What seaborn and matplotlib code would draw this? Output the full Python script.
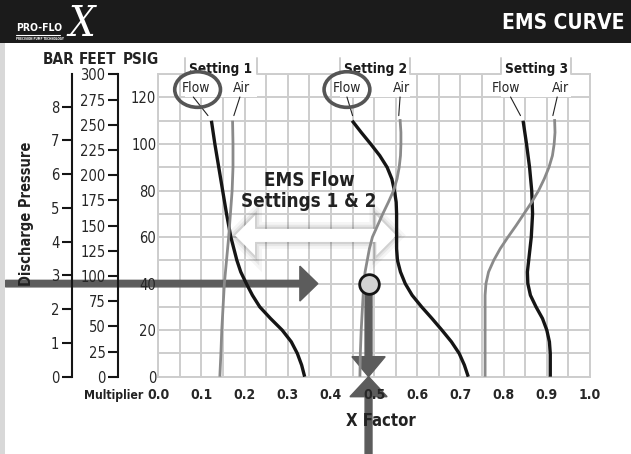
import matplotlib
matplotlib.use('Agg')
import pandas as pd
import matplotlib.pyplot as plt
import matplotlib.patheffects as pe
from matplotlib.patches import Ellipse, Polygon, Rectangle, FancyArrow
from matplotlib import font_manager
import seaborn as sns

# EMS curves: discharge pressure (psig) against X factor
s1_flow_psig = [110, 100, 90, 80, 70, 60, 50, 45, 40, 35, 30, 25, 20, 15, 10, 5, 0]
s1_flow_x = [0.123, 0.131, 0.140, 0.149, 0.158, 0.168, 0.182, 0.191, 0.204, 0.218, 0.235,
             0.260, 0.287, 0.308, 0.322, 0.332, 0.339]
s1_air_psig = [110, 100, 90, 80, 70, 60, 50, 40, 30, 20, 10, 0]
s1_air_x = [0.172, 0.173, 0.173, 0.171, 0.167, 0.163, 0.158, 0.153, 0.150, 0.147, 0.145, 0.1425]

s2_flow_psig = [110, 105, 100, 95, 90, 85, 80, 75, 70, 60, 55, 50, 45, 40, 35, 30, 25, 20, 15, 10, 5, 0]
s2_flow_x = [0.449, 0.470, 0.492, 0.513, 0.530, 0.541, 0.547, 0.551, 0.552, 0.552, 0.552, 0.554,
             0.561, 0.572, 0.588, 0.610, 0.634, 0.657, 0.679, 0.697, 0.709, 0.718]
s2_air_psig = [110.7, 105, 100, 95, 90, 85, 80, 75, 70, 65, 60, 55, 50, 45, 40, 30, 20, 10, 0]
s2_air_x = [0.560, 0.562, 0.562, 0.561, 0.558, 0.553, 0.545, 0.533, 0.520, 0.508, 0.496, 0.489,
            0.484, 0.479, 0.476, 0.473, 0.470, 0.468, 0.467]

s3_flow_psig = [110, 100, 90, 80, 70, 60, 50, 45, 40, 35, 30, 25, 20, 15, 10, 0]
s3_flow_x = [0.845, 0.853, 0.860, 0.865, 0.867, 0.864, 0.858, 0.855, 0.856, 0.862, 0.875,
             0.890, 0.900, 0.906, 0.908, 0.908]
s3_air_psig = [110.7, 105, 100, 95, 90, 85, 80, 75, 70, 65, 60, 55, 50, 45, 40, 35, 30, 0]
s3_air_x = [0.918, 0.919, 0.917, 0.913, 0.905, 0.894, 0.881, 0.865, 0.847, 0.829, 0.810, 0.792,
            0.777, 0.765, 0.759, 0.757, 0.757, 0.757]

settings = ['Setting 1', 'Setting 2', 'Setting 3']
psig_ticks = [0, 20, 40, 60, 80, 100, 120]
feet_ticks = [0, 25, 50, 75, 100, 125, 150, 175, 200, 225, 250, 275, 300]
bar_ticks = [0, 1, 2, 3, 4, 5, 6, 7, 8]
x_ticks = [0.0, 0.1, 0.2, 0.3, 0.4, 0.5, 0.6, 0.7, 0.8, 0.9, 1.0]

# example operating point: 40 psig -> X factor about 0.49
op_psig = 40
op_x = 0.487

FT_PER_PSI = 2.31
PSI_PER_BAR = 14.5038
PSIG_MAX = 130

curves = [
    ('Setting 1', 'Flow', s1_flow_psig, s1_flow_x), ('Setting 1', 'Air', s1_air_psig, s1_air_x),
    ('Setting 2', 'Flow', s2_flow_psig, s2_flow_x), ('Setting 2', 'Air', s2_air_psig, s2_air_x),
    ('Setting 3', 'Flow', s3_flow_psig, s3_flow_x), ('Setting 3', 'Air', s3_air_psig, s3_air_x),
]
df = pd.concat([pd.DataFrame({'setting': s, 'kind': k, 'psig': p, 'x_factor': x})
                for s, k, p, x in curves], ignore_index=True)
df['curve'] = df['setting'] + ' ' + df['kind']

sns.set_style('white')
# a condensed face if one is installed, otherwise the narrower Liberation Sans
condensed = [f.name for f in font_manager.fontManager.ttflist
             if f.stretch in ('condensed', 'semi-condensed') or 'Condensed' in f.name]
if 'DejaVu Sans' in condensed:
    plt.rcParams['font.family'] = ['DejaVu Sans']
    plt.rcParams['font.stretch'] = 'condensed'
else:
    plt.rcParams['font.family'] = ['Liberation Sans', 'DejaVu Sans']

fig = plt.figure(figsize=(6.31, 4.54), dpi=100)
pos = [0.2509, 0.1703, 0.6841, 0.6663]
ax = fig.add_axes(pos)

GRID = '#cdcdcd'
ax.set_xlim(0, 1)
ax.set_ylim(0, PSIG_MAX)
ax.set_xticks(x_ticks)
ax.set_xticks([i * 0.05 for i in range(21)], minor=True)
ax.set_yticks(psig_ticks)
ax.set_yticks(list(range(0, 131, 10)), minor=True)
ax.grid(which='both', color=GRID, lw=1.4)
ax.set_axisbelow(True)
ax.tick_params(which='both', length=0, labelbottom=False, labelleft=False)
for side in ['left', 'bottom', 'right']:
    ax.spines[side].set_color(GRID)
    ax.spines[side].set_linewidth(1.4)
ax.spines['top'].set_visible(False)

sns.lineplot(data=df, x='x_factor', y='psig', hue='kind', size='kind', units='curve',
             estimator=None, sort=False, palette={'Flow': '#151515', 'Air': '#8a8a8a'},
             sizes={'Flow': 2.4, 'Air': 2.0}, legend=False, ax=ax, zorder=4,
             solid_capstyle='butt', solid_joinstyle='round')
ax.set_xlabel('')
ax.set_ylabel('')

# setting tabs above the grid
tabs = [(0.0617, 0.2279), (0.4207, 0.5840), (0.7947, 0.9563)]
tab_top = 136.8
for (l, r), name in zip(tabs, settings):
    ax.add_patch(Rectangle((l, 120.3), r - l, tab_top - 120.3, facecolor='white',
                           edgecolor='none', zorder=1, clip_on=False))
    ax.text((l + r) / 2, 132.3, name, ha='center', va='center', fontsize=9.8,
            fontweight='bold', color='#1a1a1a', zorder=5, clip_on=False)
outline_x = [0]
outline_y = [PSIG_MAX]
for l, r in tabs:
    outline_x += [l, l, None, r, r]
    outline_y += [PSIG_MAX, tab_top, None, tab_top, PSIG_MAX]
outline_x.append(1)
outline_y.append(PSIG_MAX)
ax.plot(outline_x, outline_y, color=GRID, lw=1.4, zorder=1.1, clip_on=False)

# Flow / Air labels with leader lines
labels = [('Flow', 0.087, (0.081, 0.115)), ('Air', 0.192, (0.189, 0.175)),
          ('Flow', 0.437, (0.437, 0.450)), ('Air', 0.5635, (0.560, 0.557)),
          ('Flow', 0.805, (0.816, 0.839)), ('Air', 0.932, (0.924, 0.914))]
for txt, lx, (a, b) in labels:
    ax.text(lx, 124.0, txt, ha='center', va='center', fontsize=10, zorder=5)
    ax.plot([a, b], [120.2, 112.2], color='#222222', lw=0.8, zorder=5)

for cx in (0.091, 0.437):
    ax.add_patch(Ellipse((cx, 123.4), 0.106, 15.3, fill=False, ec='#555555', lw=2.6,
                         zorder=5, clip_on=False))

# white double arrow with soft shadow
x0, x1, yc = 0.178, 0.551, 60.7
hs, hh, hl = 2.8, 8.6, 0.046
dbl = Polygon([(x0, yc), (x0 + hl, yc + hh), (x0 + hl, yc + hs), (x1 - hl, yc + hs),
               (x1 - hl, yc + hh), (x1, yc), (x1 - hl, yc - hh), (x1 - hl, yc - hs),
               (x0 + hl, yc - hs), (x0 + hl, yc - hh)], closed=True,
              facecolor='white', edgecolor='none', zorder=2)
dbl.set_path_effects([pe.Stroke(linewidth=10, foreground='black', alpha=0.04),
                      pe.Stroke(linewidth=6, foreground='black', alpha=0.06),
                      pe.Stroke(linewidth=3, foreground='black', alpha=0.09),
                      pe.Normal()])
ax.add_patch(dbl)
ax.text(0.349, 84.2, 'EMS Flow', ha='center', va='center', fontsize=13.5,
        fontweight='bold', color='#222222', zorder=5)
ax.text(0.349, 75.2, 'Settings 1 & 2', ha='center', va='center', fontsize=13.5,
        fontweight='bold', color='#222222', zorder=5)

# reading arrows
ARROW = '#5c5c5c'
ax.add_patch(FancyArrow(-0.354, op_psig, 0.3695 + 0.354, 0, width=2.8, head_width=15,
                        head_length=0.0416, length_includes_head=True, color=ARROW,
                        zorder=3, clip_on=False))
ax.add_patch(FancyArrow(op_x, op_psig, 0, -op_psig, width=0.016, head_width=0.077,
                        head_length=8.6, length_includes_head=True, color=ARROW,
                        zorder=3, clip_on=False))
ax.add_patch(FancyArrow(op_x, -33.5, 0, 33.5, width=0.016, head_width=0.086,
                        head_length=8.6, length_includes_head=True, color=ARROW,
                        zorder=3, clip_on=False))
ax.scatter([op_x], [op_psig], s=200, color='#d2d2d2', edgecolor='#151515', lw=2,
           zorder=7, clip_on=False)

# overlay axes carrying the PSIG and X factor labels above the arrows
ov = fig.add_axes(pos, sharex=ax, sharey=ax)
ov.patch.set_visible(False)
ov.grid(False)
for s in ov.spines.values():
    s.set_visible(False)
ov.tick_params(which='both', length=0)
ov.tick_params(axis='x', pad=8, labelsize=10)
ov.tick_params(axis='y', pad=1.5, labelsize=10.5)
ov.set_xticklabels([f'{t:.1f}' for t in x_ticks], fontweight='bold')
ov.set_xlabel('X Factor', fontsize=12, fontweight='bold', color='#222222')
ov.xaxis.set_label_coords(0.515, -0.148)
ov.xaxis.label.set_va('center')


def side_scale(offset, top, ticks):
    sc = ax.twinx()
    sc.set_ylim(0, top)
    sc.yaxis.tick_left()
    sc.grid(False)
    for side in ['right', 'top', 'bottom']:
        sc.spines[side].set_visible(False)
    sc.spines['left'].set_visible(True)
    sc.spines['left'].set_position(('axes', offset))
    sc.spines['left'].set_color('#151515')
    sc.spines['left'].set_linewidth(1.5)
    sc.set_yticks(ticks)
    sc.tick_params(axis='y', length=7, width=1.5, color='#151515', direction='out',
                   pad=2, labelsize=10.5)
    return sc


side_scale(-0.0934, PSIG_MAX * FT_PER_PSI, feet_ticks)
side_scale(-0.2006, PSIG_MAX / PSI_PER_BAR, bar_ticks)

# header band, frame strip and free texts
fig.patches.append(Rectangle((0, 1 - 43 / 454), 1, 43 / 454, transform=fig.transFigure,
                             facecolor='#1b1b1b', edgecolor='none', zorder=0))
fig.patches.append(Rectangle((0, 0), 5 / 631, 1 - 43 / 454, transform=fig.transFigure,
                             facecolor='#d8d8d8', edgecolor='none', zorder=0))
fig.text(624 / 631, 1 - 23 / 454, 'EMS CURVE', ha='right', va='center', color='white',
         fontsize=15, fontweight='bold')
fig.text(16 / 631, 1 - 28 / 454, 'PRO-FLO', ha='left', va='center', color='white',
         fontsize=7.5, fontweight='bold')
fig.add_artist(plt.Line2D([16 / 631, 60 / 631], [1 - 34.5 / 454, 1 - 34.5 / 454],
                          color='white', lw=0.8))
fig.text(16 / 631, 1 - 38.5 / 454, 'PRECISION PUMP TECHNOLOGY', ha='left', va='center',
         color='white', fontsize=2.2, fontweight='bold')
fig.text(82 / 631, 1 - 24 / 454, 'X', ha='center', va='center', color='white',
         fontsize=30, family='DejaVu Serif', style='italic')

for txt, cx in [('BAR', 59), ('FEET', 97.5), ('PSIG', 141)]:
    fig.text(cx / 631, 1 - 60 / 454, txt, ha='center', va='center', fontsize=11,
             fontweight='bold', color='#222222')
fig.text(143 / 631, 1 - 395 / 454, 'Multiplier', ha='right', va='center', fontsize=8.8,
         fontweight='bold', color='#222222')
fig.text(27 / 631, 1 - 214 / 454, 'Discharge Pressure', ha='center', va='center',
         rotation=90, fontsize=10.5, fontweight='bold', color='#222222')

fig.savefig('out.png', dpi=100)
